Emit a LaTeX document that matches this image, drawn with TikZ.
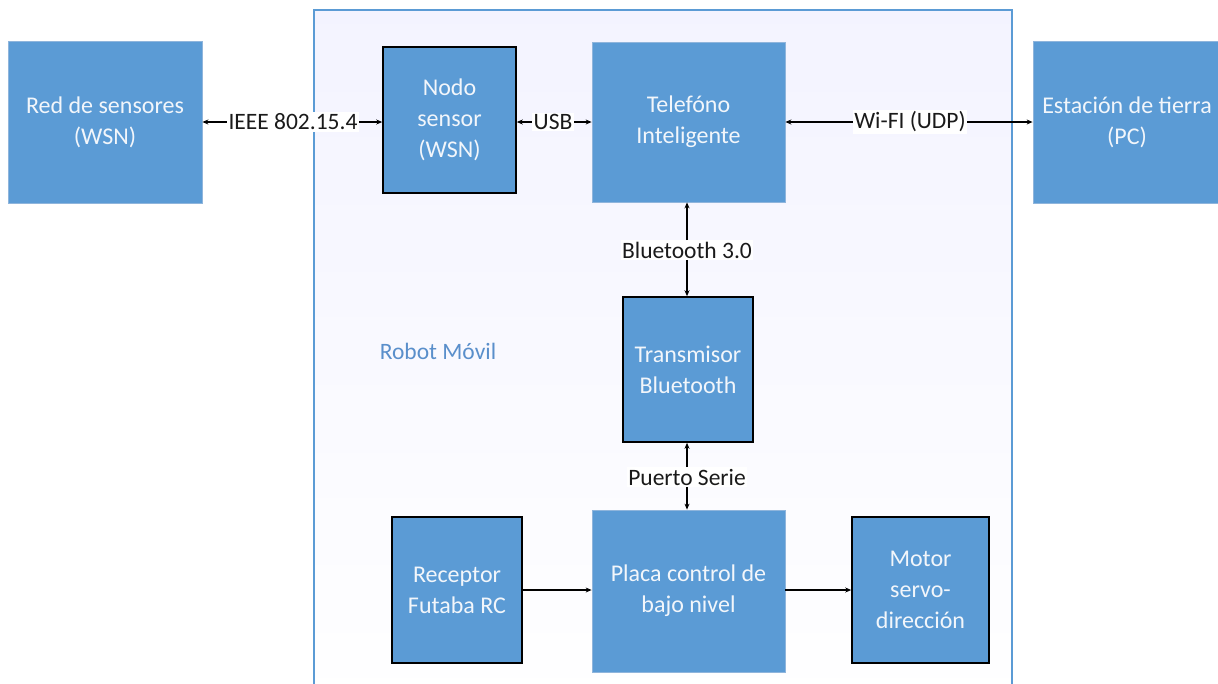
\documentclass[tikz,border=0pt]{standalone}
\usepackage{fontspec}
\setmainfont{Carlito}
\usetikzlibrary{arrows.meta}
\definecolor{boxblue}{HTML}{5B9BD5}
\definecolor{boxedge}{HTML}{8FB5DC}
\definecolor{frameblue}{HTML}{5B9BD5}
\definecolor{robottxt}{HTML}{5A8FCB}
\definecolor{boxtxt}{HTML}{F2F6FB}
\definecolor{lbltxt}{HTML}{1A1A1A}
\begin{document}
\begin{tikzpicture}[x=1pt,y=-1pt,
  blk/.style={fill=boxblue, draw=boxedge, line width=0.8pt, text=boxtxt, align=center,
    font=\fontsize{24}{31}\selectfont, inner sep=0pt},
  blkb/.style={blk, draw=black, line width=1.6pt},
  lbl/.style={fill=white, text=lbltxt, font=\fontsize{23.5}{26}\selectfont, inner sep=1.5pt},
  arr/.style={-{Stealth[length=6pt,width=5pt]}, line width=1.4pt, black}]
\useasboundingbox (0,0) rectangle (1218,683);
\clip (0,0) rectangle (1218,683);
\fill[white] (0,0) rectangle (1218,683);
% robot frame
\shade[left color=blue!6!white, right color=white, shading angle=0] (314,10) rectangle (1012,700);
\shade[top color=blue!3!white, bottom color=white, opacity=0.5] (314,10) rectangle (1012,700);
\draw[frameblue, line width=1.5pt] (1012,700) -- (1012,10) -- (314,10) -- (314,700);
\node[text=robottxt, font=\fontsize{23.5}{26}\selectfont] (robot) at (438,351) {Robot Móvil};
% blocks
\node[blk, minimum width=194pt, minimum height=162pt] (red) at (105,122) {Red de sensores\\(WSN)};
\node[blkb, minimum width=133pt, minimum height=146pt] (nodo) at (449.5,120) {Nodo\\sensor\\(WSN)};
\node[blk, minimum width=193pt, minimum height=160pt] (tel) at (688.5,122) {Telefóno\\Inteligente};
\node[blk, minimum width=188pt, minimum height=162pt] (est) at (1127,122) {Estación de tierra\\(PC)};
\node[blkb, minimum width=130pt, minimum height=145pt] (trans) at (688,369.5) {Transmisor\\Bluetooth};
\node[blkb, minimum width=130pt, minimum height=146pt] (rec) at (457,590) {Receptor\\Futaba RC};
\node[blk, minimum width=193pt, minimum height=162pt] (placa) at (688.5,591) {Placa control de\\bajo nivel};
\node[blkb, minimum width=137pt, minimum height=146pt] (motor) at (920.5,590) {Motor\\servo-\\dirección};
% labels
\node[lbl] (lieee) at (293,122) {IEEE 802.15.4};
\node[lbl] (lusb) at (553,122) {USB};
\node[lbl] (lwifi) at (910,122) {Wi-FI (UDP)};
\node[lbl] (lbt) at (687,250) {Bluetooth 3.0};
\node[lbl] (lps) at (687,477) {Puerto Serie};
% connectors
\draw[arr] (lieee.west) -- (red.east |- lieee);
\draw[arr] (lieee.east) -- (nodo.west |- lieee);
\draw[arr] (lusb.west) -- (nodo.east |- lusb);
\draw[arr] (lusb.east) -- (tel.west |- lusb);
\draw[arr] (lwifi.west) -- (tel.east |- lwifi);
\draw[arr] (lwifi.east) -- (est.west |- lwifi);
\draw[arr] (lbt.north) -- (tel.south -| lbt);
\draw[arr] (lbt.south) -- (trans.north -| lbt);
\draw[arr] (lps.north) -- (trans.south -| lps);
\draw[arr] (lps.south) -- (placa.north -| lps);
\draw[arr] (rec.east) -- (rec.east -| placa.west);
\draw[arr] (placa.east |- motor.west) -- (motor.west);
\end{tikzpicture}
\end{document}
